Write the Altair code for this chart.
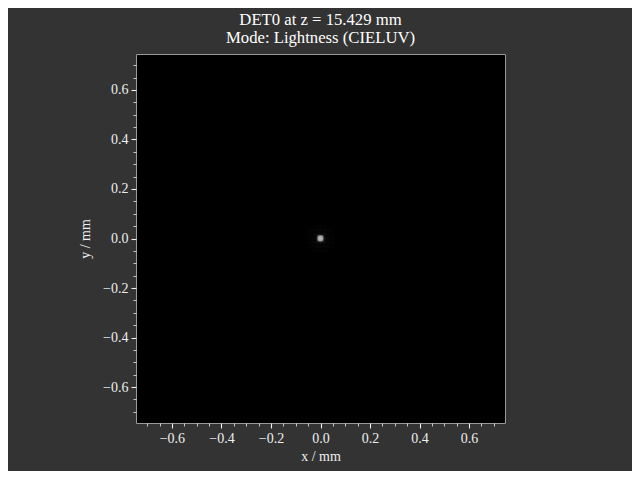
import altair as alt
import pandas as pd

# title and axes
title_lines = ["DET0 at z = 15.429 mm", "Mode: Lightness (CIELUV)"]
axis_min, axis_max = -0.745, 0.745
tick_values = [-0.70, -0.65, -0.60, -0.55, -0.50, -0.45, -0.40, -0.35, -0.30,
               -0.25, -0.20, -0.15, -0.10, -0.05, 0.0, 0.05, 0.10, 0.15, 0.20,
               0.25, 0.30, 0.35, 0.40, 0.45, 0.50, 0.55, 0.60, 0.65, 0.70]

# faint glow around the spot (coarse cells, mm)
halo_cell = 0.016
halo_centers = [-0.048, -0.032, -0.016, 0.0, 0.016, 0.032, 0.048]
halo_lightness = [
    [0.004, 0.006, 0.008, 0.009, 0.008, 0.006, 0.004],
    [0.006, 0.010, 0.014, 0.016, 0.014, 0.010, 0.006],
    [0.008, 0.014, 0.022, 0.028, 0.022, 0.014, 0.008],
    [0.009, 0.016, 0.028, 0.040, 0.028, 0.016, 0.009],
    [0.008, 0.014, 0.022, 0.028, 0.022, 0.014, 0.008],
    [0.006, 0.010, 0.014, 0.016, 0.014, 0.010, 0.006],
    [0.004, 0.006, 0.008, 0.009, 0.008, 0.006, 0.004],
]

# bright core of the spot (fine cells, mm)
core_cell = 0.004
core_centers = [-0.014, -0.010, -0.006, -0.002, 0.002, 0.006, 0.010, 0.014]
core_lightness = [
    [0.06, 0.10, 0.14, 0.16, 0.16, 0.14, 0.10, 0.06],
    [0.10, 0.55, 0.80, 0.90, 0.90, 0.80, 0.55, 0.10],
    [0.14, 0.80, 0.98, 1.00, 1.00, 0.98, 0.80, 0.14],
    [0.16, 0.90, 1.00, 1.00, 1.00, 1.00, 0.90, 0.16],
    [0.16, 0.90, 1.00, 1.00, 1.00, 1.00, 0.90, 0.16],
    [0.14, 0.80, 0.98, 1.00, 1.00, 0.98, 0.80, 0.14],
    [0.10, 0.55, 0.80, 0.90, 0.90, 0.80, 0.55, 0.10],
    [0.06, 0.10, 0.14, 0.16, 0.16, 0.14, 0.10, 0.06],
]


def cells(centers, size, grid, layer):
    rows = []
    # grid rows run from top (largest y) to bottom
    for i, yc in enumerate(reversed(centers)):
        for j, xc in enumerate(centers):
            rows.append({
                "x": xc - size / 2, "x2": xc + size / 2,
                "y": yc - size / 2, "y2": yc + size / 2,
                "L": grid[i][j], "layer": layer,
            })
    return rows


data = pd.DataFrame(cells(halo_centers, halo_cell, halo_lightness, 0)
                    + cells(core_centers, core_cell, core_lightness, 1))

font = "Liberation Serif"
text_color = "#eeeeee"
major = "abs(datum.value*5 - round(datum.value*5)) < 1e-6"


def make_axis(title, title_padding):
    return alt.Axis(
        title=title,
        values=tick_values,
        labelExpr=f"{major} ? format(datum.value, '.1f') : ''",
        tickSize={"condition": {"test": major, "value": 5}, "value": 3},
        tickWidth={"condition": {"test": major, "value": 1.1}, "value": 0.8},
        tickColor="#eeeeee",
        labelOverlap=False,
        labelFlush=False,
        domain=False,
        grid=False,
        labelFont=font,
        titleFont=font,
        labelFontSize=14,
        titleFontSize=14,
        labelColor=text_color,
        titleColor=text_color,
        titleFontWeight="normal",
        labelPadding=3,
        titlePadding=title_padding,
    )


scale = alt.Scale(domain=[axis_min, axis_max], nice=False, zero=False)

chart = alt.Chart(data).mark_rect().encode(
    x=alt.X("x:Q", scale=scale, axis=make_axis("x / mm", 4)),
    x2="x2:Q",
    y=alt.Y("y:Q", scale=scale, axis=make_axis("y / mm", 10)),
    y2="y2:Q",
    color=alt.Color("L:Q", scale=alt.Scale(domain=[0, 1], range=["#000000", "#ffffff"]), legend=None),
    order=alt.Order("layer:Q"),
).properties(
    width=369,
    height=369,
    title=alt.TitleParams(
        text=title_lines,
        font=font,
        fontSize=16.7,
        fontWeight="normal",
        color="#ffffff",
        anchor="middle",
        lineHeight=18,
        offset=7,
    ),
    autosize=alt.AutoSizeParams(type="none"),
    padding={"left": 128, "top": 46, "right": 127, "bottom": 48},
).configure(
    background="#333333",
).configure_view(
    fill="#000000",
    stroke="#999999",
    strokeWidth=1,
)

chart.save("out.html", embed_options={"renderer": "svg", "actions": False})
